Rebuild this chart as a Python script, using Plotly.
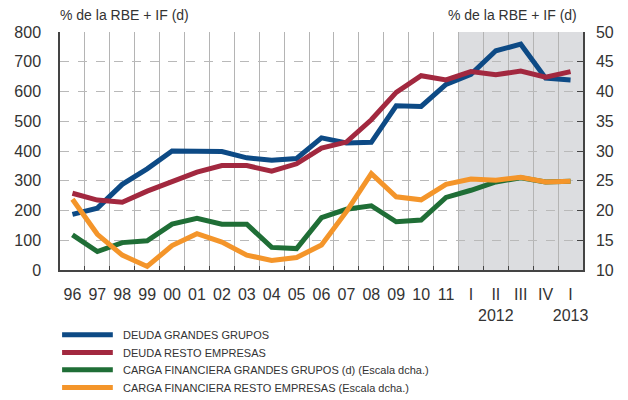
import plotly.graph_objects as go

# Periods: annual 1996-2011, then quarterly 2012 Q1 - 2013 Q1
categories = ["96", "97", "98", "99", "00", "01", "02", "03", "04", "05",
              "06", "07", "08", "09", "10", "11",
              "I", "II<br>2012", "III", "IV", "I<br>2013"]

# Debt ratios, % of RBE + IF (left scale)
deuda_grandes = [187, 208, 288, 340, 400, 398, 398, 377, 369, 375,
                 444, 427, 429, 552, 550, 624, 658, 737, 759, 645, 639]
deuda_resto = [258, 235, 228, 265, 297, 329, 351, 351, 332, 357,
               410, 430, 505, 597, 653, 639, 667, 656, 669, 648, 667]

# Financial burden, % of RBE + IF (right scale)
carga_grandes = [15.9, 13.1, 14.6, 14.9, 17.7, 18.7, 17.7, 17.7, 13.8, 13.6,
                 18.8, 20.2, 20.8, 18.1, 18.4, 22.2, 23.4, 24.8, 25.5, 24.8, 24.9]
carga_resto = [21.9, 16.0, 12.5, 10.6, 14.1, 16.1, 14.7, 12.5, 11.6, 12.1,
               14.2, 19.8, 26.2, 22.3, 21.8, 24.4, 25.3, 25.1, 25.6, 24.8, 24.9]

left_ticks = [0, 100, 200, 300, 400, 500, 600, 700, 800]
right_ticks = [10, 15, 20, 25, 30, 35, 40, 45, 50]

series = [
    ("DEUDA GRANDES GRUPOS", deuda_grandes, "y", "#0d4a85"),
    ("DEUDA RESTO EMPRESAS", deuda_resto, "y", "#a2283f"),
    ("CARGA FINANCIERA GRANDES GRUPOS (d) (Escala dcha.)", carga_grandes, "y2", "#1f6e36"),
    ("CARGA FINANCIERA RESTO EMPRESAS (Escala dcha.)", carga_resto, "y2", "#f4952a"),
]

x = list(range(len(categories)))
n = len(categories)
text_color = "#333333"
font_family = "Liberation Sans, Arial, sans-serif"

fig = go.Figure()
for name, vals, yax, color in series:
    fig.add_trace(go.Scatter(
        x=x, y=vals, yaxis=yax, mode="lines", name=name,
        line=dict(color=color, width=5, shape="linear"),
        showlegend=False, hoverinfo="x+y",
    ))

# Shaded quarterly period
fig.add_shape(type="rect", xref="x", yref="paper",
              x0=15.5, x1=n - 0.5, y0=0, y1=1,
              fillcolor="#dcdde0", line=dict(width=0), layer="below")

boundaries = [i - 0.5 for i in range(1, n)]

fig.update_layout(
    width=628, height=400,
    margin=dict(l=60, r=45, t=32, b=130),
    paper_bgcolor="white", plot_bgcolor="rgba(0,0,0,0)",
    font=dict(family=font_family, color=text_color),
    xaxis=dict(
        range=[-0.5, n - 0.5],
        tickmode="array", tickvals=x, ticktext=categories,
        tickangle=0,
        ticks="", showgrid=False, zeroline=False,
        showline=True, linecolor="#444444", linewidth=1.5,
        tickfont=dict(size=16, color=text_color),
        ticklabelstandoff=9,
        minor=dict(tickmode="array", tickvals=boundaries, ticks="inside",
                   ticklen=4, tickcolor="#444444", showgrid=True,
                   gridcolor="#b4b4b4", gridwidth=1),
    ),
    yaxis=dict(
        range=[0, 800], tickmode="array", tickvals=left_ticks,
        showgrid=True, gridcolor="#b9b9b9", griddash="dash", gridwidth=1,
        zeroline=False, showline=True, linecolor="#444444", linewidth=1.5,
        ticks="", tickfont=dict(size=16, color=text_color),
        ticklabelstandoff=14,
    ),
    yaxis2=dict(
        range=[10, 50], tickmode="array", tickvals=right_ticks,
        overlaying="y", side="right", showgrid=False, zeroline=False,
        showline=True, linecolor="#444444", linewidth=1.5,
        ticks="inside", ticklen=6, tickcolor="#444444",
        tickfont=dict(size=16, color=text_color),
        ticklabelstandoff=8,
    ),
)

# Axis unit captions
fig.add_annotation(text="% de la RBE + IF (d)", xref="paper", yref="paper",
                   x=-0.003, y=1.072, xanchor="left", yanchor="middle",
                   showarrow=False, font=dict(size=14, color=text_color))
fig.add_annotation(text="% de la RBE + IF (d)", xref="paper", yref="paper",
                   x=0.992, y=1.072, xanchor="right", yanchor="middle",
                   showarrow=False, font=dict(size=14, color=text_color))

# Legend drawn below the plot
legend_rows = [-0.272, -0.347, -0.419, -0.494]
for (name, _, _, color), ly in zip(series, legend_rows):
    fig.add_shape(type="line", xref="paper", yref="paper",
                  x0=0.004, x1=0.101, y0=ly, y1=ly,
                  line=dict(color=color, width=5))
    fig.add_annotation(text=name, xref="paper", yref="paper",
                       x=0.117, y=ly, xanchor="left", yanchor="middle",
                       showarrow=False, font=dict(size=11, color=text_color))

fig.write_html("out.html")
